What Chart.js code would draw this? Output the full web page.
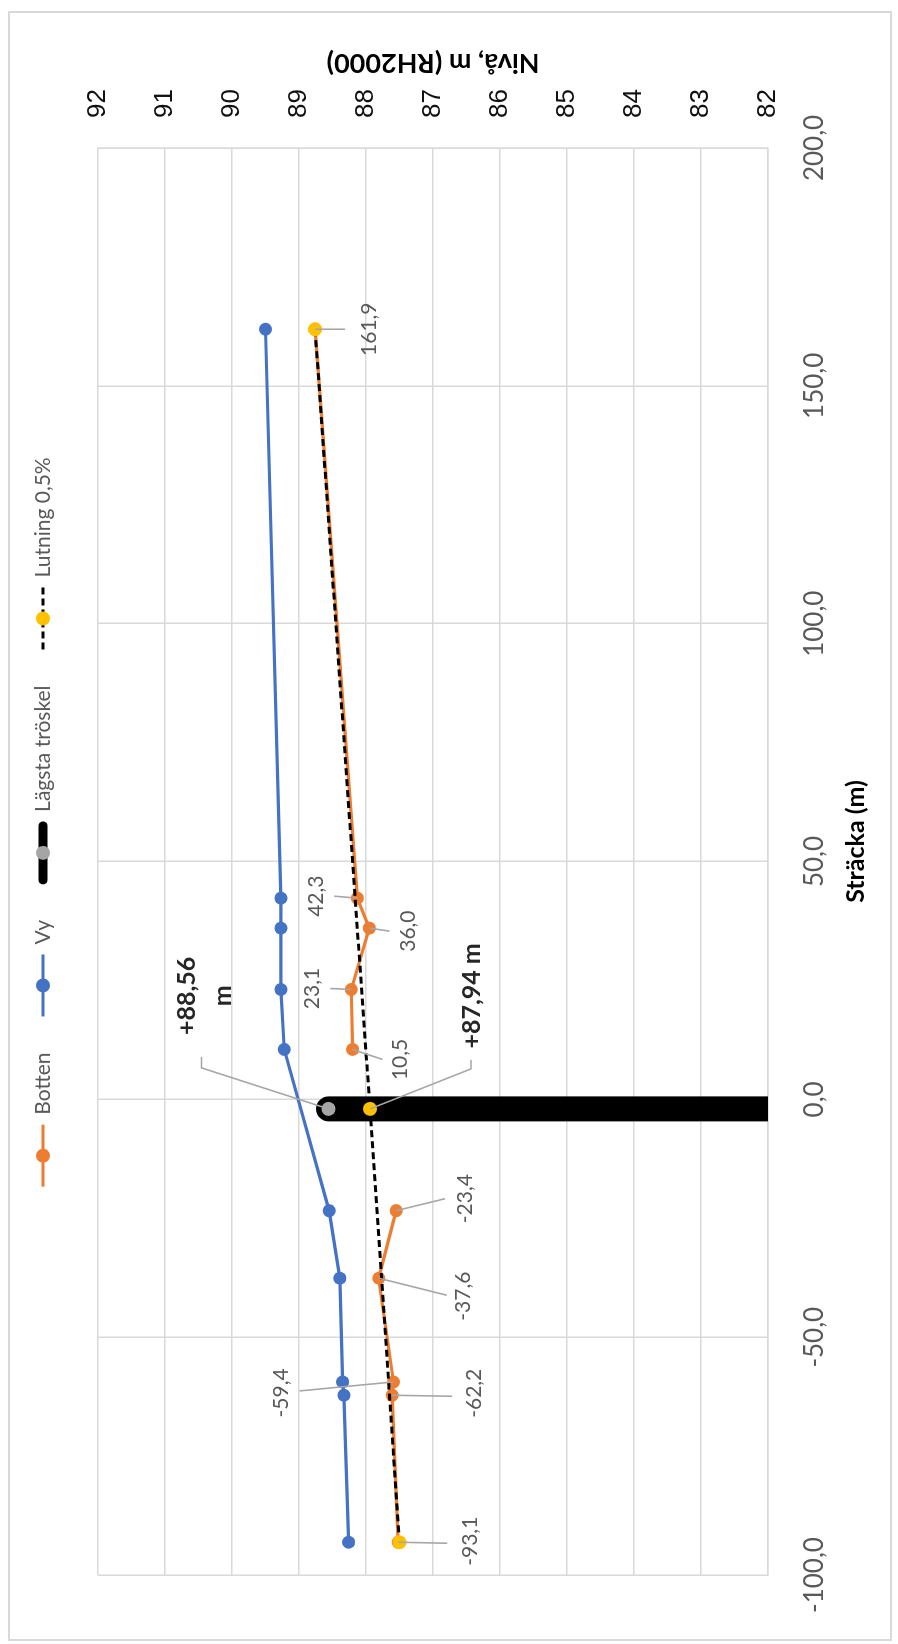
<!DOCTYPE html>
<html>
<head>
<meta charset="utf-8">
<title>Sträcka – nivå</title>
<script src="https://cdn.jsdelivr.net/npm/chart.js@4.4.1/dist/chart.umd.min.js"></script>
<style>
  html, body { margin: 0; padding: 0; background: #fff; overflow: hidden; }
  /* The chart is laid out landscape and turned a quarter turn to stand on the page */
  #frame {
    position: absolute; left: 0; top: 0;
    width: 1644px; height: 898px;
    transform-origin: 0 0;
    transform: translate(0, 1644px) rotate(-90deg);
  }
  canvas { display: block; }
</style>
</head>
<body>
<div id="frame"><canvas id="profil" width="1644" height="898"></canvas></div>
<script>
// Sträcka (m) and levels (m, RH2000)
const vyStracka      = [161.9, 42.3, 36.0, 23.1, 10.5, -23.4, -37.6, -59.4, -62.2, -93.1];
const vyNiva         = [89.50, 89.27, 89.27, 89.27, 89.22, 88.55, 88.39, 88.35, 88.33, 88.26];
// null marks the break in the bottom profile
const bottenStracka  = [161.9, 42.3, 36.0, 23.1, 10.5, null, -23.4, -37.6, -59.4, -62.2, -93.1];
const bottenNiva     = [88.76, 88.13, 87.95, 88.22, 88.20, null, 87.55, 87.81, 87.59, 87.61, 87.52];
const troskelStracka = [-2, -2];
const troskelNiva    = [88.56, 82];
const lutningStracka = [161.9, -2, -93.1];
const lutningNiva    = [88.76, 87.94, 87.50];

const xTicks = { min: -100, max: 200, step: 50 };
const yTicks = { min: 82, max: 92, step: 1 };

const seriesNames = ['Botten', 'Vy', 'Lägsta tröskel', 'Lutning 0,5%'];
const xTitle = 'Sträcka (m)';
const yTitle = 'Nivå, m (RH2000)';

const FONT = 'Lato, "Open Sans", sans-serif';
const C = {
  botten: '#ED7D31', vy: '#4472C4', troskel: '#000000', troskelPunkt: '#A5A5A5',
  lutning: '#000000', lutningPunkt: '#FFC000', grid: '#D9D9D9',
  text: '#595959', dark: '#262626', leader: '#A6A6A6'
};

const pts = (xs, ys) => xs.map((x, i) => ({ x: x, y: ys[i] }));
const komma = (v, d) => v.toFixed(d).replace('.', ',');

// Data label placement: offsets (px) of text centre and leader bend points from the point
const strackaText = p => [komma(p.x, 1)];
const labelSpecs = [
  { ds: 0, i: 0,  at: [0, 54],        lead: [[0, 30]],                text: strackaText },
  { ds: 0, i: 1,  at: [2, -41],       lead: [[2, -23]],               text: strackaText },
  { ds: 0, i: 2,  at: [-3, 39],       lead: [[-3, 20]],               text: strackaText },
  { ds: 0, i: 3,  at: [1, -39],       lead: [[1, -21]],               text: strackaText },
  { ds: 0, i: 4,  at: [-10, 48],      lead: [[-10, 30]],              text: strackaText },
  { ds: 0, i: 6,  at: [12, 69],       lead: [[12, 49]],               text: strackaText },
  { ds: 0, i: 7,  at: [-18, 85],      lead: [[-17, 68]],              text: strackaText },
  { ds: 0, i: 8,  at: [-11, -112],    lead: [[-9, -94]],              text: strackaText },
  { ds: 0, i: 9,  at: [2, 82],        lead: [[-1, 60]],               text: strackaText },
  { ds: 0, i: 10, at: [1, 72],        lead: [[-1, 49]],               text: strackaText },
  { ds: 2, i: 0,  at: [113, -142], gap: 36.6, bold: true,
    lead: [[52, -127], [41, -127]], text: p => ['+' + komma(p.y, 2), 'm'] },
  { ds: 3, i: 1,  at: [113, 102], bold: true,
    lead: [[49, 101], [40, 101]],   text: p => ['+' + komma(p.y, 2) + ' m'] }
];

const pointLabels = {
  id: 'pointLabels',
  afterDatasetsDraw(chart) {
    const ctx = chart.ctx;
    ctx.save();
    labelSpecs.forEach(s => {
      const el = chart.getDatasetMeta(s.ds).data[s.i];
      const raw = chart.data.datasets[s.ds].data[s.i];
      const px = el.x, py = el.y;
      ctx.strokeStyle = C.leader;
      ctx.lineWidth = 1.6;
      ctx.beginPath();
      s.lead.forEach(([dx, dy], k) => k ? ctx.lineTo(px + dx, py + dy) : ctx.moveTo(px + dx, py + dy));
      ctx.lineTo(px, py);
      ctx.stroke();
      ctx.font = s.bold ? 'bold 25px ' + FONT : '21px ' + FONT;
      ctx.fillStyle = s.bold ? C.dark : C.text;
      ctx.textAlign = 'center';
      ctx.textBaseline = 'middle';
      s.text(raw).forEach((t, k) => ctx.fillText(t, px + s.at[0], py + s.at[1] + k * (s.gap || 0)));
    });
    ctx.restore();
  }
};

// Frame, axis titles and legend
const decor = {
  id: 'decor',
  beforeDraw(chart) {
    const ctx = chart.ctx;
    ctx.save();
    ctx.fillStyle = '#fff';
    ctx.fillRect(0, 0, chart.width, chart.height);
    ctx.strokeStyle = C.grid;
    ctx.lineWidth = 2;
    ctx.strokeRect(4, 9, 1628, 882);
    ctx.restore();
  },
  afterDraw(chart) {
    const ctx = chart.ctx;
    const a = chart.chartArea;
    ctx.save();
    // axis titles
    ctx.fillStyle = '#000';
    ctx.textAlign = 'center';
    ctx.textBaseline = 'middle';
    ctx.font = 'bold 25px ' + FONT;
    ctx.fillText(xTitle, (a.left + a.right) / 2 + 20, 856);
    ctx.save();
    ctx.translate(1581, (a.top + a.bottom) / 2);
    ctx.rotate(-Math.PI / 2);
    ctx.font = 'bold 27px ' + FONT;
    ctx.fillText(yTitle, 0, 0);
    ctx.restore();

    // legend
    const sym = 62, gapText = 10, gapItem = 36, ly = 43;
    ctx.font = '21px ' + FONT;
    const widths = seriesNames.map(n => sym + gapText + ctx.measureText(n).width);
    const total = widths.reduce((s, w) => s + w, 0) + gapItem * (widths.length - 1);
    let x = chart.width / 2 - total / 2;
    const dot = (cx, col) => { ctx.beginPath(); ctx.arc(cx, ly, 7, 0, Math.PI * 2); ctx.fillStyle = col; ctx.fill(); };
    seriesNames.forEach((n, k) => {
      const cx = x + sym / 2;
      ctx.save();
      ctx.beginPath();
      if (k === 2) {
        ctx.lineWidth = 9; ctx.lineCap = 'round'; ctx.strokeStyle = C.troskel;
        ctx.moveTo(x + 4, ly); ctx.lineTo(x + sym - 4, ly); ctx.stroke();
        dot(cx, C.troskelPunkt);
      } else if (k === 3) {
        ctx.lineWidth = 3; ctx.strokeStyle = C.lutning; ctx.setLineDash([7, 4]);
        ctx.moveTo(x, ly); ctx.lineTo(x + sym, ly); ctx.stroke();
        ctx.setLineDash([]);
        dot(cx, C.lutningPunkt);
      } else {
        const col = k === 0 ? C.botten : C.vy;
        ctx.lineWidth = 3; ctx.strokeStyle = col;
        ctx.moveTo(x, ly); ctx.lineTo(x + sym, ly); ctx.stroke();
        dot(cx, col);
      }
      ctx.restore();
      ctx.fillStyle = C.text;
      ctx.textAlign = 'left';
      ctx.textBaseline = 'middle';
      ctx.fillText(n, x + sym + gapText, ly);
      x += widths[k] + gapItem;
    });
    ctx.restore();
  }
};

function build() {
  new Chart(document.getElementById('profil'), {
    type: 'scatter',
    data: {
      datasets: [
        { label: seriesNames[0], data: pts(bottenStracka, bottenNiva), showLine: true, spanGaps: false,
          borderColor: C.botten, backgroundColor: C.botten, borderWidth: 3.2,
          pointRadius: 6.5, pointBorderWidth: 0, pointBackgroundColor: C.botten, order: 3 },
        { label: seriesNames[1], data: pts(vyStracka, vyNiva), showLine: true,
          borderColor: C.vy, backgroundColor: C.vy, borderWidth: 3.2,
          pointRadius: 6.5, pointBorderWidth: 0, pointBackgroundColor: C.vy, order: 2 },
        { label: seriesNames[2], data: pts(troskelStracka, troskelNiva), showLine: true,
          borderColor: C.troskel, backgroundColor: C.troskel, borderWidth: 25, borderCapStyle: 'round',
          pointRadius: [7, 0], pointBorderWidth: 0, pointBackgroundColor: C.troskelPunkt, clip: 0, order: 1 },
        { label: seriesNames[3], data: pts(lutningStracka, lutningNiva), showLine: true,
          borderColor: C.lutning, backgroundColor: C.lutning, borderWidth: 3, borderDash: [7, 4],
          pointRadius: 7, pointBorderWidth: 0, pointBackgroundColor: C.lutningPunkt, order: 0 }
      ]
    },
    options: {
      responsive: false,
      animation: false,
      devicePixelRatio: 1,
      layout: { padding: { left: 64, top: 98, right: 0, bottom: 0 } },
      plugins: { legend: { display: false }, tooltip: { enabled: false } },
      elements: { line: { tension: 0 } },
      scales: {
        x: {
          type: 'linear', position: 'bottom',
          min: xTicks.min, max: xTicks.max,
          afterFit: s => { s.height = 130; },
          ticks: { stepSize: xTicks.step, padding: 31, color: C.text,
                   font: { family: FONT, size: 26 }, callback: v => komma(v, 1), maxRotation: 0 },
          grid: { color: C.grid, lineWidth: 1.5, drawTicks: false },
          border: { display: true, color: C.grid, width: 1.5 }
        },
        y: {
          type: 'linear', position: 'right',
          min: yTicks.min, max: yTicks.max,
          afterFit: s => { s.width = 148; },
          ticks: { stepSize: yTicks.step, padding: 30, color: '#111',
                   font: { family: '"Liberation Sans", Arial, sans-serif', size: 26 } },
          grid: { color: C.grid, lineWidth: 1.5, drawTicks: false },
          border: { display: true, color: C.grid, width: 1.5 }
        }
      }
    },
    plugins: [decor, pointLabels]
  });
}

const fontsReady = document.fonts && document.fonts.load
  ? Promise.all([
      document.fonts.load('21px Lato'), document.fonts.load('bold 25px Lato'),
      document.fonts.load('26px "Liberation Sans"')
    ]).catch(() => null)
  : Promise.resolve();
fontsReady.then(build);
</script>
</body>
</html>
